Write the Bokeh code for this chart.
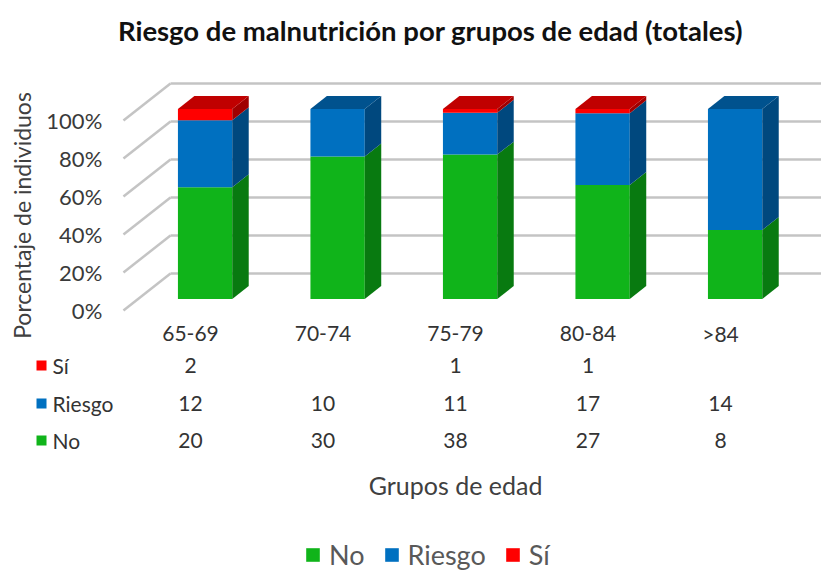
import numpy as np
from bokeh.plotting import figure
from bokeh.models import ColumnDataSource, Legend, LegendItem
from bokeh.core.properties import value
from bokeh.embed import file_html
from bokeh.resources import INLINE

# ---------------- data ----------------
categories = ["65-69", "70-74", "75-79", "80-84", ">84"]
no_counts = [20, 30, 38, 27, 8]
riesgo_counts = [12, 10, 11, 17, 14]
si_counts = [2, 0, 1, 1, 0]
series_names = ["No", "Riesgo", "Sí"]
y_ticks = [0, 20, 40, 60, 80, 100]
y_tick_labels = ["0%", "20%", "40%", "60%", "80%", "100%"]
title_text = "Riesgo de malnutrición por grupos de edad (totales)"
y_title = "Porcentaje de individuos"
x_title = "Grupos de edad"

# ---------------- style ----------------
front_colors = ["#10B41A", "#0070C0", "#FF0000"]
side_colors = ["#087A10", "#00487E", "#A00000"]
top_colors = ["#0C9A16", "#00528E", "#C00000"]
grid_color = "#C4C4C4"
FONT = value("Lato")

# oblique projection of the depth axis (data units)
DX, DY = 0.355, 19.5
D0, D1 = 0.31, 0.66     # bar depth extent
BW = 0.41               # bar width (category units)
X_LEFT = -0.506         # front-left edge of the floor/wall

counts = np.array([no_counts, riesgo_counts, si_counts], dtype=float)
totals = counts.sum(axis=0)
pct = counts / totals * 100.0
cum_top = np.cumsum(pct, axis=0)
cum_bot = cum_top - pct
xs = np.arange(len(categories), dtype=float)

p = figure(width=821, height=571, x_range=(-1.434, 4.762), y_range=(-137.37, 163.16),
           x_axis_type=None, y_axis_type=None, min_border=0, toolbar_location=None,
           output_backend="svg", outline_line_color=None)
p.grid.visible = False

# back-wall grid lines and their diagonal floor connectors
for t in y_ticks:
    p.line([X_LEFT + DX, 6.0], [t + DY, t + DY], line_color=grid_color, line_width=2.5)
    p.line([X_LEFT, X_LEFT + DX], [t, t + DY], line_color=grid_color, line_width=2.5)

# tick labels
p.text(x=[X_LEFT - 0.16] * len(y_ticks), y=y_ticks, text=y_tick_labels, text_font=FONT,
       text_font_size="22px", text_align="right", text_baseline="middle", text_color="#3A3A3A")

# bars
cx = xs + D0 * DX
dd = D1 - D0
front_renderers = []
for k, name in enumerate(series_names):
    keep = pct[k] > 0
    src = ColumnDataSource(dict(
        left=(cx - BW / 2)[keep], right=(cx + BW / 2)[keep],
        bottom=(cum_bot[k] + D0 * DY)[keep], top=(cum_top[k] + D0 * DY)[keep]))
    r = p.quad(left="left", right="right", bottom="bottom", top="top", source=src,
               fill_color=front_colors[k], line_color=None)
    front_renderers.append(r)
    sx, sy = [], []
    for i in np.where(keep)[0]:
        xr = cx[i] + BW / 2
        b = cum_bot[k][i] + D0 * DY
        t = cum_top[k][i] + D0 * DY
        sx.append([xr, xr + dd * DX, xr + dd * DX, xr])
        sy.append([b, b + dd * DY, t + dd * DY, t])
    p.patches(sx, sy, fill_color=side_colors[k], line_color=None)

# top faces (colour of top-most non-empty series)
tx, ty, tc = [], [], []
for i in range(len(categories)):
    k = max(j for j in range(3) if pct[j][i] > 0)
    t = cum_top[k][i] + D0 * DY
    xl, xr = cx[i] - BW / 2, cx[i] + BW / 2
    tx.append([xl, xr, xr + dd * DX, xl + dd * DX])
    ty.append([t, t, t + dd * DY, t + dd * DY])
    tc.append(top_colors[k])
p.patches(tx, ty, fill_color=tc, line_color=None)

# data table below the chart
p.text(x=xs, y=[-12.1] * len(xs), text=categories, text_font=FONT, text_font_size="21px",
       text_align="center", text_baseline="middle", text_color="#333333")
row_y = [-68.4, -48.9, -28.9]
for k, name in enumerate(series_names):
    labels = [("%d" % v if v else "") for v in counts[k]]
    p.text(x=xs, y=[row_y[k]] * len(xs), text=labels, text_font=FONT, text_font_size="21px",
           text_align="center", text_baseline="middle", text_color="#333333")
    p.scatter(x=[-1.1245], y=[row_y[k]], marker="square", size=10,
              fill_color=front_colors[k], line_color=None)
    p.text(x=[-1.0415], y=[row_y[k]], text=[name], text_font=FONT, text_font_size="21px",
           text_align="left", text_baseline="middle", text_color="#333333")

# titles
p.text(x=[1.811], y=[147.4], text=[title_text], text_font=FONT, text_font_size="27.5px",
       text_font_style="bold", text_align="center", text_baseline="middle", text_color="#111111")
p.text(x=[-1.27], y=[50.0], text=[y_title], angle=np.pi / 2, text_font=FONT,
       text_font_size="23px", text_align="center", text_baseline="middle", text_color="#404040")
p.text(x=[2.0], y=[-92.1], text=[x_title], text_font=FONT, text_font_size="25px",
       text_align="center", text_baseline="middle", text_color="#404040")

legend = Legend(items=[LegendItem(label=n, renderers=[front_renderers[k]])
                       for k, n in enumerate(series_names)],
                orientation="horizontal", location=(304, 0), padding=0, margin=0,
                spacing=18, glyph_width=17, glyph_height=17, label_standoff=8,
                label_height=26, label_text_font="Lato", label_text_font_size="27px",
                label_text_color="#595959", border_line_color=None,
                background_fill_alpha=0)
p.add_layout(legend)

open("out.html", "w").write(file_html(p, INLINE))
